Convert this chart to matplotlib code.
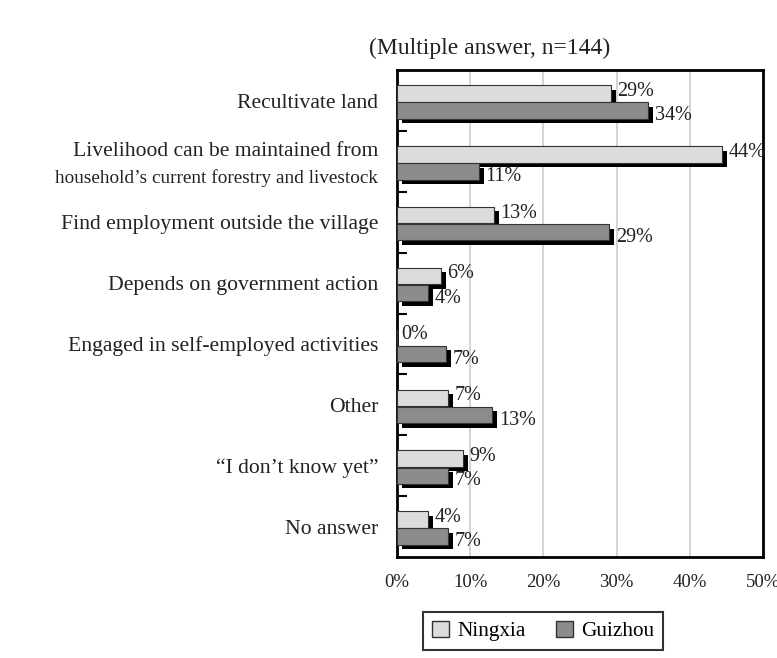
import matplotlib.pyplot as plt
import matplotlib.patheffects as pe
import matplotlib.transforms as mtransforms
from matplotlib.patches import Patch
import numpy as np

plt.rcParams['font.family'] = ['Liberation Serif', 'DejaVu Serif']

categories = [
    "Recultivate land",
    "Livelihood can be maintained from\nhousehold\u2019s current forestry and livestock",
    "Find employment outside the village",
    "Depends on government action",
    "Engaged in self-employed activities",
    "Other",
    "\u201cI don\u2019t know yet\u201d",
    "No answer",
]
ningxia = [29.2, 44.4, 13.2, 6.0, 0.0, 7.0, 9.0, 4.2]
guizhou = [34.3, 11.2, 29.0, 4.2, 6.7, 13.0, 7.0, 7.0]
ningxia_labels = ["29%", "44%", "13%", "6%", "0%", "7%", "9%", "4%"]
guizhou_labels = ["34%", "11%", "29%", "4%", "7%", "13%", "7%", "7%"]

fig = plt.figure(figsize=(7.77, 6.58), dpi=100)
ax = fig.add_axes([0.511, 0.1535, 0.471, 0.74])

y = np.arange(len(categories))
h = 0.27
shadow = [pe.SimplePatchShadow(offset=(3.6, -3.2), shadow_rgbFace='black', alpha=1.0),
          pe.Normal()]

b1 = ax.barh(y - 0.115, ningxia, height=h, color='#dcdcdc', edgecolor='#333333',
             linewidth=0.8, zorder=3)
b2 = ax.barh(y + 0.165, guizhou, height=h, color='#8c8c8c', edgecolor='#333333',
             linewidth=0.8, zorder=3)
for bars in (b1, b2):
    for b in bars:
        if b.get_width() > 0:
            b.set_path_effects(shadow)

for i in range(len(categories)):
    ax.text(ningxia[i] + 0.9 if ningxia[i] > 0 else 0.6, y[i] - 0.15, ningxia_labels[i],
            va='center', ha='left', fontsize=14.5, color='#222222')
    ax.text(guizhou[i] + 0.9, y[i] + 0.25, guizhou_labels[i],
            va='center', ha='left', fontsize=14.5, color='#222222')

ax.set_xlim(0, 50)
ax.set_ylim(len(categories) - 0.5, -0.5)
ax.set_xticks([0, 10, 20, 30, 40, 50])
ax.set_xticklabels(["0%", "10%", "20%", "30%", "40%", "50%"], fontsize=13.5, color='#222222')
ax.tick_params(axis='x', length=0, pad=12)
ax.grid(axis='x', color='#cccccc', linewidth=1.2, zorder=0)

# tick labels; the two-line one is drawn by hand (second line is condensed)
ax.set_yticks(y)
ax.set_yticklabels([c if "\n" not in c else "" for c in categories],
                   fontsize=15.6, color='#222222')
ax.tick_params(axis='y', length=0, pad=13.5)
ax.set_yticks(np.arange(len(categories) - 1) + 0.5, minor=True)
ax.tick_params(axis='y', which='minor', direction='in', length=7, width=1.5, color='black')

trans = mtransforms.blended_transform_factory(ax.transAxes, ax.transData)
trans = trans + mtransforms.ScaledTranslation(-19 / 100, 0, fig.dpi_scale_trans)
for i, c in enumerate(categories):
    if "\n" in c:
        first, second = c.split("\n")
        ax.text(0, y[i] - 0.16, first, transform=trans, ha='right', va='center',
                fontsize=15.6, color='#222222')
        ax.text(0, y[i] + 0.27, second, transform=trans, ha='right', va='center',
                fontsize=13.9, color='#222222')

for s in ax.spines.values():
    s.set_linewidth(2)
    s.set_color('black')

fig.text(0.63, 0.926, "(Multiple answer, n=144)", ha='center', va='center',
         fontsize=17, color='#222222')

handles = [Patch(facecolor='#dcdcdc', edgecolor='#333333', label='Ningxia'),
           Patch(facecolor='#8c8c8c', edgecolor='#333333', label='Guizhou')]
leg = fig.legend(handles=handles, loc='center', bbox_to_anchor=(0.699, 0.041), ncol=2,
                 fontsize=15.3, frameon=True, fancybox=False, edgecolor='black',
                 handlelength=0.8, handleheight=0.8, columnspacing=1.4, handletextpad=0.4)
leg.get_frame().set_linewidth(1.5)

fig.savefig("out.png", dpi=100)
